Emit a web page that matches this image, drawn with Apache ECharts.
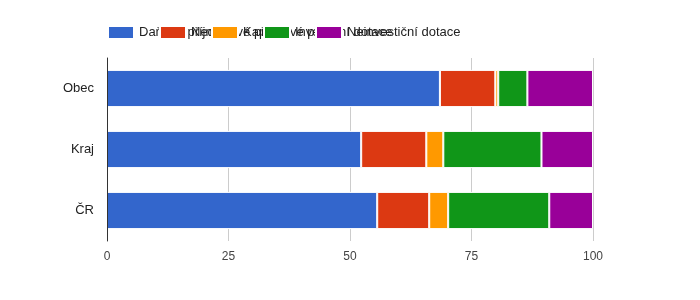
<!DOCTYPE html>
<html>
<head>
<meta charset="utf-8">
<script src="https://cdn.jsdelivr.net/npm/echarts@6/dist/echarts.min.js"></script>
<style>html,body{margin:0;padding:0;background:#fff}#c{width:700px;height:300px}</style>
</head>
<body>
<div id="c"></div>
<script>
const categories = ['Obec', 'Kraj', 'ČR'];
const seriesNames = ['Daňové příjmy', 'Nedaňové příjmy', 'Kapitálové příjmy', 'Investiční dotace', 'Neinvestiční dotace'];
const dane = [68.5, 52.3, 55.6];
const nedane = [11.4, 13.4, 10.7];
const kapitalove = [0.6, 3.5, 3.9];
const investicni = [6.0, 20.2, 20.8];
const neinvesticni = [13.5, 10.6, 9.0];
const xTicks = [0, 25, 50, 75, 100];
const colors = ['#3366cc', '#dc3912', '#ff9900', '#109618', '#990099'];

const values = [dane, nedane, kapitalove, investicni, neinvesticni];
const chart = echarts.init(document.getElementById('c'));
chart.setOption({
  animation: false,
  color: colors,
  textStyle: { fontFamily: 'Liberation Sans, Arial, sans-serif' },
  legend: seriesNames.map((n, i) => ({
    left: 107 + i * 52, top: 25, z: 10 + i,
    padding: 0,
    itemWidth: 26, itemHeight: 13, itemGap: 5,
    icon: 'rect',
    selectedMode: false,
    textStyle: { fontSize: 13, color: '#222' },
    data: [n]
  })),
  grid: { left: 107, right: 107, top: 58, bottom: 59 },
  xAxis: {
    type: 'value', min: xTicks[0], max: xTicks[xTicks.length - 1], interval: 25,
    axisLine: { show: false }, axisTick: { show: false },
    splitLine: { lineStyle: { color: '#cccccc' } },
    axisLabel: { color: '#444', fontSize: 12, margin: 10 }
  },
  yAxis: {
    type: 'category', data: categories, inverse: true, z: 5,
    axisLine: { lineStyle: { color: '#333', width: 1 } },
    axisTick: { show: false },
    axisLabel: { color: '#222', fontSize: 13, margin: 13 }
  },
  series: seriesNames.map((n, i) => ({
    name: n, type: 'bar', stack: 'total', data: values[i],
    barCategoryGap: '39%',
    itemStyle: { borderColor: '#fff', borderWidth: 1 }
  }))
});
</script>
</body>
</html>
